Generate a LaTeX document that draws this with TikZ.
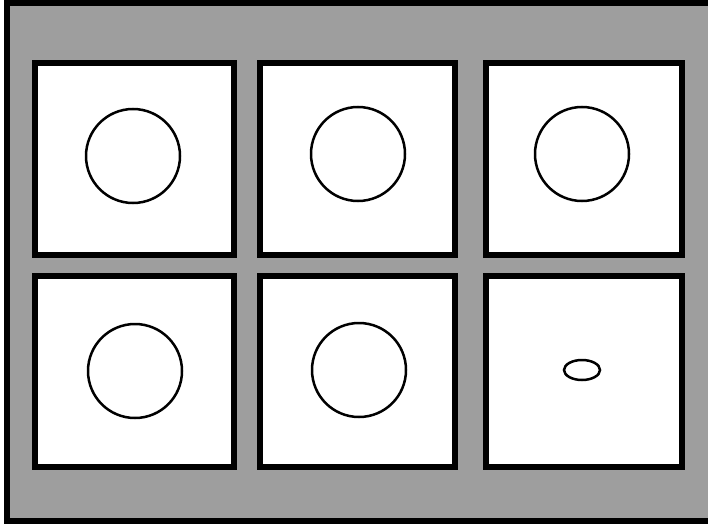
\documentclass[tikz,border=0pt]{standalone}
\begin{document}
\begin{tikzpicture}[x=1pt,y=-1pt,
  bggray/.style={fill={rgb,255:red,158;green,158;blue,158}},
  panel/.style={draw=black,fill=white,line width=6pt,inner sep=0pt,rectangle},
  ring/.style={draw=black,line width=2.5pt,circle,inner sep=0pt,minimum size=94pt},
  blob/.style={draw=black,line width=2.5pt,ellipse,inner sep=0pt,minimum width=36pt,minimum height=20pt}]
\useasboundingbox (0,0) rectangle (708,524);
\fill[white] (0,0) rectangle (708,524);
\draw[bggray,draw=black,line width=6pt] (6.5,3) rectangle (715,521);
% panels
\node[panel,minimum width=199pt,minimum height=192pt] (p1) at (134.5,159) {};
\node[panel,minimum width=195pt,minimum height=192pt] (p2) at (357.5,159) {};
\node[panel,minimum width=196pt,minimum height=192pt] (p3) at (584,159) {};
\node[panel,minimum width=199pt,minimum height=191pt] (p4) at (134.5,371.5) {};
\node[panel,minimum width=195pt,minimum height=191pt] (p5) at (357.5,371.5) {};
\node[panel,minimum width=196pt,minimum height=191pt] (p6) at (584,371.5) {};
% circles
\node[ring] (c1) at (133,156) {};
\node[ring] (c2) at (358,154) {};
\node[ring] (c3) at (582,154) {};
\node[ring] (c4) at (135,371) {};
\node[ring] (c5) at (359,370) {};
\draw[black,line width=2.5pt] (582,370) ellipse (18pt and 10pt);
\end{tikzpicture}
\end{document}
